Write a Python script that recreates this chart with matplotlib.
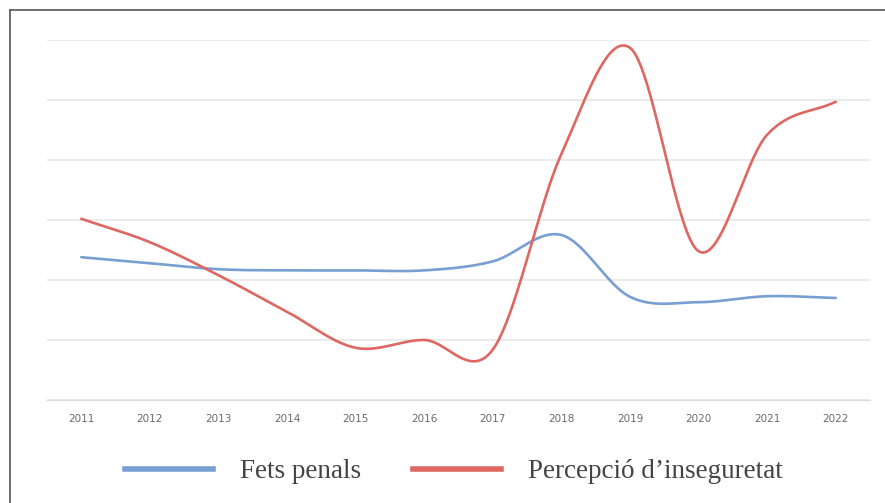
import numpy as np
import matplotlib
matplotlib.use("Agg")
import matplotlib.pyplot as plt
from matplotlib.lines import Line2D

# === DATA ===
years = ['2011', '2012', '2013', '2014', '2015', '2016',
         '2017', '2018', '2019', '2020', '2021', '2022']
fets_penals = [2.38, 2.28, 2.18, 2.16, 2.16, 2.16, 2.31, 2.75, 1.72, 1.63, 1.73, 1.70]
percepcio = [3.02, 2.63, 2.08, 1.47, 0.87, 1.00, 0.84, 4.10, 5.87, 2.48, 4.42, 4.97]
labels = ['Fets penals', "Percepció d’inseguretat"]

# === STYLE ===
COLORS = ['#779fd1', '#de6761']
LINE_WIDTH = 1.9
GRID_COLOR = '#e8e8e8'
TICK_COLOR = '#6a6a6a'
LEGEND_COLOR = '#444444'


def smooth(y, n=40):
    # Catmull-Rom style smoothing (like Excel "smoothed line")
    y = np.asarray(y, dtype=float)
    x = np.arange(len(y), dtype=float)
    m = np.zeros_like(y)
    m[1:-1] = (y[2:] - y[:-2]) / 2
    m[0] = y[1] - y[0]
    m[-1] = y[-1] - y[-2]
    xs, ys = [], []
    for i in range(len(y) - 1):
        t = np.linspace(0, 1, n, endpoint=False)
        h00 = 2 * t**3 - 3 * t**2 + 1
        h10 = t**3 - 2 * t**2 + t
        h01 = -2 * t**3 + 3 * t**2
        h11 = t**3 - t**2
        xs.append(x[i] + t)
        ys.append(h00 * y[i] + h10 * m[i] + h01 * y[i + 1] + h11 * m[i + 1])
    xs.append([x[-1]])
    ys.append([y[-1]])
    return np.concatenate(xs), np.concatenate(ys)


fig = plt.figure(figsize=(8.85, 5.03), dpi=100)
ax = fig.add_axes([47 / 885, 1 - 400 / 503, 823 / 885, 360 / 503])

for i, series in enumerate([fets_penals, percepcio]):
    sx, sy = smooth(series)
    ax.plot(sx, sy, color=COLORS[i], linewidth=LINE_WIDTH,
            solid_capstyle='round', zorder=3)

ax.set_xlim(-0.5, len(years) - 0.5)
ax.set_ylim(0, 6)
ax.set_yticks(np.arange(0, 7, 1))
ax.set_yticklabels([])
ax.tick_params(axis='y', length=0)
ax.set_xticks(np.arange(len(years)))
ax.set_xticklabels(years, fontsize=7.5, color=TICK_COLOR)
ax.tick_params(axis='x', length=0, pad=10)
ax.grid(axis='y', color=GRID_COLOR, linewidth=1.2)
for side in ['top', 'right', 'left']:
    ax.spines[side].set_visible(False)
ax.spines['bottom'].set_color('#dcdcdc')
ax.spines['bottom'].set_linewidth(1.0)

# legend
handles = [Line2D([0], [0], color=c, linewidth=4.0) for c in COLORS]
fig.legend(handles, labels, loc='center', bbox_to_anchor=(0.513, 0.062),
           ncol=2, frameon=False, handlelength=3.25, handletextpad=1.0,
           columnspacing=1.9,
           prop={'family': 'Liberation Serif', 'size': 19.5},
           labelcolor=LEGEND_COLOR)

# frame (top and left only)
bx = 10 / 885
by = 1 - 10 / 503
fig.add_artist(Line2D([bx, bx], [0, by], transform=fig.transFigure,
                      color='#555555', linewidth=1.2))
fig.add_artist(Line2D([bx, 1], [by, by], transform=fig.transFigure,
                      color='#555555', linewidth=1.2))

fig.savefig('out.png', dpi=100)
